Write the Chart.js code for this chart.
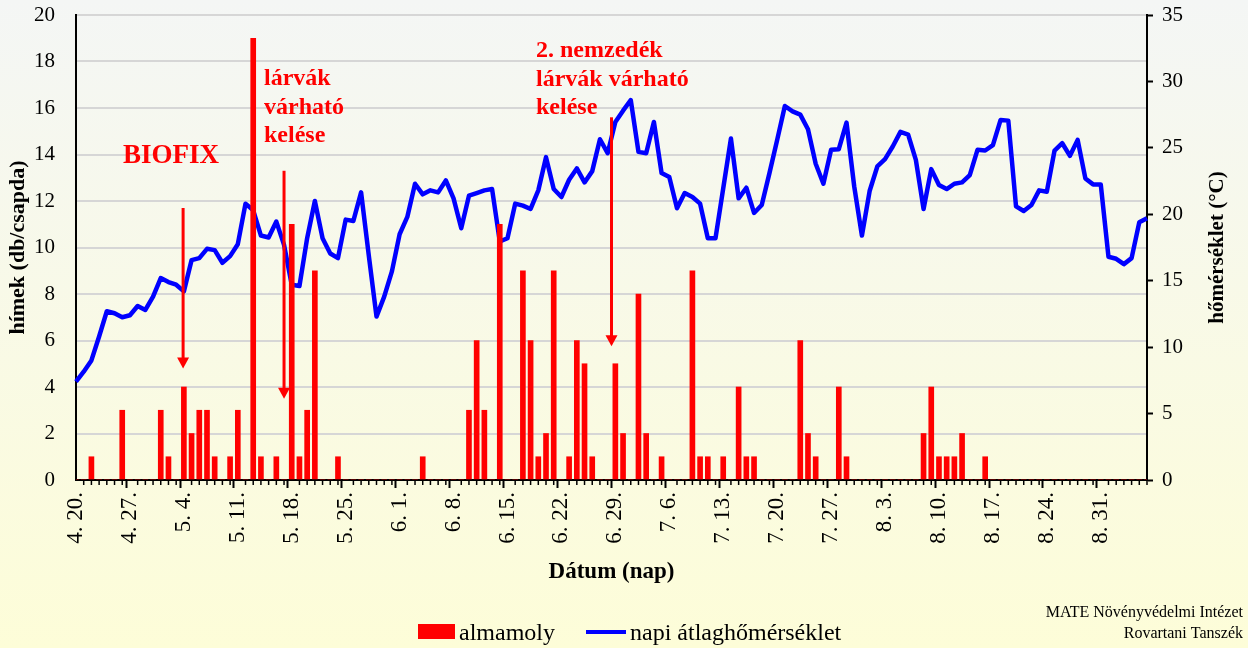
<!DOCTYPE html>
<html lang="hu">
<head>
    <meta charset="UTF-8">
    <title>Almamoly rajzás és napi átlaghőmérséklet</title>
    <script src="https://cdn.jsdelivr.net/npm/chart.js"></script>
    <style>
        body {
            margin: 0;
            padding: 0;
            background-color: #ffffff;
        }
        .chart-wrap {
            width: 1248px;
            height: 648px;
        }
    </style>
</head>
<body>
    <div class="chart-wrap">
        <canvas id="mothChart" width="1248" height="648"></canvas>
    </div>

    <script>
        // napok 4.20-tól, 140 nap
        const startMonth = 4;
        const startDay = 20;
        const dayCount = 140;
        const monthLengths = { 4: 30, 5: 31, 6: 30, 7: 31, 8: 31, 9: 30 };

        // almamoly fogás (db/csapda), naponként
        const mothCounts = [
            0, 0, 1, 0, 0, 0, 3, 0, 0, 0,
            0, 3, 1, 0, 4, 2, 3, 3, 1, 0,
            1, 3, 0, 19, 1, 0, 1, 0, 11, 1,
            3, 9, 0, 0, 1, 0, 0, 0, 0, 0,
            0, 0, 0, 0, 0, 1, 0, 0, 0, 0,
            0, 3, 6, 3, 0, 11, 0, 0, 9, 6,
            1, 2, 9, 0, 1, 6, 5, 1, 0, 0,
            5, 2, 0, 8, 2, 0, 1, 0, 0, 0,
            9, 1, 1, 0, 1, 0, 4, 1, 1, 0,
            0, 0, 0, 0, 6, 2, 1, 0, 0, 4,
            1, 0, 0, 0, 0, 0, 0, 0, 0, 0,
            2, 4, 1, 1, 1, 2, 0, 0, 1, 0,
            0, 0, 0, 0, 0, 0, 0, 0, 0, 0,
            0, 0, 0, 0, 0, 0, 0, 0, 0, 0
        ];

        // napi átlaghőmérséklet (°C)
        const dailyTemp = [
            7.4, 8.15, 9.0, 10.8, 12.7, 12.55, 12.25, 12.4, 13.1, 12.8,
            13.8, 15.2, 14.9, 14.7, 14.2, 16.55, 16.7, 17.4, 17.3, 16.35,
            16.85, 17.75, 20.8, 20.3, 18.4, 18.25, 19.45, 17.7, 14.7, 14.6,
            18.2, 21.0, 18.2, 17.05, 16.7, 19.6, 19.5, 21.65, 16.9, 12.3,
            13.8, 15.7, 18.5, 19.8, 22.3, 21.5, 21.8, 21.65, 22.55, 21.2,
            18.95, 21.4, 21.6, 21.8, 21.9, 17.95, 18.2, 20.8, 20.65, 20.4,
            21.8, 24.3, 21.9, 21.3, 22.6, 23.45, 22.4, 23.25, 25.65, 24.6,
            26.95, 27.8, 28.6, 24.7, 24.6, 26.95, 23.1, 22.8, 20.45, 21.6,
            21.3, 20.8, 18.2, 18.2, 21.95, 25.7, 21.2, 22.0, 20.1, 20.7,
            23.1, 25.6, 28.15, 27.75, 27.5, 26.4, 23.8, 22.3, 24.85, 24.9,
            26.9, 22.1, 18.4, 21.75, 23.6, 24.15, 25.1, 26.2, 26.0, 24.1,
            20.4, 23.4, 22.2, 21.9, 22.3, 22.4, 22.95, 24.85, 24.8, 25.2,
            27.1, 27.05, 20.6, 20.25, 20.7, 21.8, 21.7, 24.8, 25.35, 24.4,
            25.6, 22.7, 22.25, 22.25, 16.8, 16.65, 16.25, 16.7, 19.4, 19.7
        ];

        const leftTicks = [0, 2, 4, 6, 8, 10, 12, 14, 16, 18, 20];
        const rightTicks = [0, 5, 10, 15, 20, 25, 30, 35];

        // dátum címkék: "4. 20."
        const dateLabels = [];
        let m = startMonth, d = startDay;
        for (let i = 0; i < dayCount; i++) {
            dateLabels.push(m + '. ' + d + '.');
            d++;
            if (d > monthLengths[m]) { d = 1; m++; }
        }

        // feliratok, nyilak (tengelyértékekben)
        const arrows = [
            { day: 13.9, from: 11.7, to: 4.8 },
            { day: 27.0, from: 13.3, to: 3.5 },
            { day: 69.5, from: 15.6, to: 5.75 }
        ];
        const notes = [
            { lines: ['BIOFIX'], x: 171, y: 163, size: 27, align: 'center' },
            { lines: ['lárvák', 'várható', 'kelése'], x: 264, y: 85, size: 24, align: 'left' },
            { lines: ['2. nemzedék', 'lárvák várható', 'kelése'], x: 536, y: 57, size: 24, align: 'left' }
        ];

        const SERIF = "'Liberation Serif', 'Times New Roman', serif";
        Chart.defaults.font.family = SERIF;
        Chart.defaults.color = '#000000';

        const bgPlugin = {
            id: 'bg',
            beforeDraw(chart) {
                const ctx = chart.ctx;
                const g = ctx.createLinearGradient(0, 0, 0, chart.height);
                g.addColorStop(0, '#f4f6f5');
                g.addColorStop(1, '#fdfdd8');
                ctx.save();
                ctx.fillStyle = g;
                ctx.fillRect(0, 0, chart.width, chart.height);
                ctx.restore();
            }
        };

        const notesPlugin = {
            id: 'notes',
            afterDatasetsDraw(chart) {
                const ctx = chart.ctx;
                const xs = chart.scales.x, ys = chart.scales.y;
                ctx.save();
                ctx.strokeStyle = '#ff0000';
                ctx.fillStyle = '#ff0000';
                ctx.lineWidth = 3;
                arrows.forEach(a => {
                    const x = xs.getPixelForValue(a.day);
                    const y1 = ys.getPixelForValue(a.from);
                    const y2 = ys.getPixelForValue(a.to);
                    ctx.beginPath();
                    ctx.moveTo(x, y1);
                    ctx.lineTo(x, y2 - 8);
                    ctx.stroke();
                    ctx.beginPath();
                    ctx.moveTo(x - 6, y2 - 11);
                    ctx.lineTo(x + 6, y2 - 11);
                    ctx.lineTo(x, y2);
                    ctx.closePath();
                    ctx.fill();
                });
                notes.forEach(n => {
                    ctx.font = 'bold ' + n.size + 'px ' + SERIF;
                    ctx.textAlign = n.align;
                    ctx.textBaseline = 'alphabetic';
                    n.lines.forEach((t, i) => ctx.fillText(t, n.x, n.y + i * 28.5));
                });
                ctx.restore();
            },
            afterDraw(chart) {
                const ctx = chart.ctx;
                const xs = chart.scales.x;
                const area = chart.chartArea;
                ctx.save();
                // napi (kis) osztások
                ctx.strokeStyle = '#000000';
                ctx.lineWidth = 1.5;
                for (let i = 0; i < dayCount; i++) {
                    if (i % 7 === 0) continue;
                    const x = xs.getPixelForValue(i);
                    ctx.beginPath();
                    ctx.moveTo(x, area.bottom);
                    ctx.lineTo(x, area.bottom + 5);
                    ctx.stroke();
                }
                // jobb oldali tengelycím
                ctx.translate(1218, (area.top + area.bottom) / 2);
                ctx.rotate(-Math.PI / 2);
                ctx.font = 'bold 21px ' + SERIF;
                ctx.fillStyle = '#000000';
                ctx.textAlign = 'center';
                ctx.textBaseline = 'middle';
                ctx.fillText('hőmérséklet (°C)', 0, 0);
                ctx.restore();

                // jelmagyarázat
                ctx.save();
                const bar = chart.data.datasets[0], line = chart.data.datasets[1];
                ctx.fillStyle = bar.backgroundColor;
                ctx.fillRect(418, 624, 37, 15);
                ctx.strokeStyle = line.borderColor;
                ctx.lineWidth = 4;
                ctx.beginPath();
                ctx.moveTo(586, 632);
                ctx.lineTo(626, 632);
                ctx.stroke();
                ctx.fillStyle = '#000000';
                ctx.font = '24px ' + SERIF;
                ctx.textBaseline = 'alphabetic';
                ctx.textAlign = 'left';
                ctx.fillText(bar.label, 459, 640);
                ctx.fillText(line.label, 630, 640);
                // forrás
                ctx.font = '16px ' + SERIF;
                ctx.textAlign = 'right';
                ctx.fillText('MATE Növényvédelmi Intézet', 1243, 617);
                ctx.fillText('Rovartani Tanszék', 1243, 638);
                ctx.restore();
            }
        };

        new Chart(document.getElementById('mothChart'), {
            type: 'bar',
            data: {
                labels: dateLabels,
                datasets: [
                    {
                        type: 'bar',
                        label: 'almamoly',
                        data: mothCounts,
                        backgroundColor: '#ff0000',
                        barThickness: 5,
                        yAxisID: 'y',
                        order: 0
                    },
                    {
                        type: 'line',
                        label: 'napi átlaghőmérséklet',
                        data: dailyTemp,
                        borderColor: '#0000ff',
                        borderWidth: 4.5,
                        borderJoinStyle: 'round',
                        pointRadius: 0,
                        tension: 0,
                        yAxisID: 'y2',
                        order: 1
                    }
                ]
            },
            options: {
                responsive: false,
                animation: false,
                layout: { padding: { top: 15, right: 0, bottom: 62, left: 0 } },
                plugins: {
                    legend: { display: false },
                    tooltip: { enabled: false }
                },
                scales: {
                    x: {
                        type: 'category',
                        offset: false,
                        border: { display: true, color: '#000000', width: 2 },
                        grid: {
                            display: true,
                            drawOnChartArea: false,
                            drawTicks: true,
                            tickLength: 8,
                            tickWidth: 2,
                            tickColor: c => (c.index % 7 === 0 ? '#000000' : 'rgba(0,0,0,0)')
                        },
                        ticks: {
                            autoSkip: false,
                            minRotation: 90,
                            maxRotation: 90,
                            padding: 4,
                            font: { size: 23 },
                            callback: function (v, i) { return i % 7 === 0 ? dateLabels[i] : ''; }
                        },
                        title: {
                            display: true,
                            text: 'Dátum (nap)',
                            font: { size: 23, weight: 'bold' },
                            padding: { top: 0, bottom: 0 }
                        },
                        afterFit: s => { s.height = 106; s.paddingLeft = 0; s.paddingRight = 0; }
                    },
                    y: {
                        position: 'left',
                        min: 0,
                        max: 20,
                        afterBuildTicks: s => { s.ticks = leftTicks.map(v => ({ value: v })); },
                        border: { display: true, color: '#000000', width: 2 },
                        grid: { color: '#d6d6d6', lineWidth: 2, drawTicks: false },
                        ticks: { padding: 21, font: { size: 21 } },
                        title: {
                            display: true,
                            text: 'hímek (db/csapda)',
                            font: { size: 22, weight: 'bold' },
                            padding: { top: 5, bottom: 0 }
                        },
                        afterFit: s => { s.width = 76; s.paddingTop = 0; s.paddingBottom = 0; }
                    },
                    y2: {
                        position: 'right',
                        min: 0,
                        max: 35,
                        afterBuildTicks: s => { s.ticks = rightTicks.map(v => ({ value: v })); },
                        border: { display: true, color: '#000000', width: 2 },
                        grid: {
                            drawOnChartArea: false,
                            drawTicks: true,
                            tickLength: 6,
                            tickWidth: 2,
                            tickColor: '#000000'
                        },
                        ticks: { padding: 9, font: { size: 21 } },
                        afterFit: s => { s.width = 101; s.paddingTop = 0; s.paddingBottom = 0; }
                    }
                }
            },
            plugins: [bgPlugin, notesPlugin]
        });
    </script>
</body>
</html>
